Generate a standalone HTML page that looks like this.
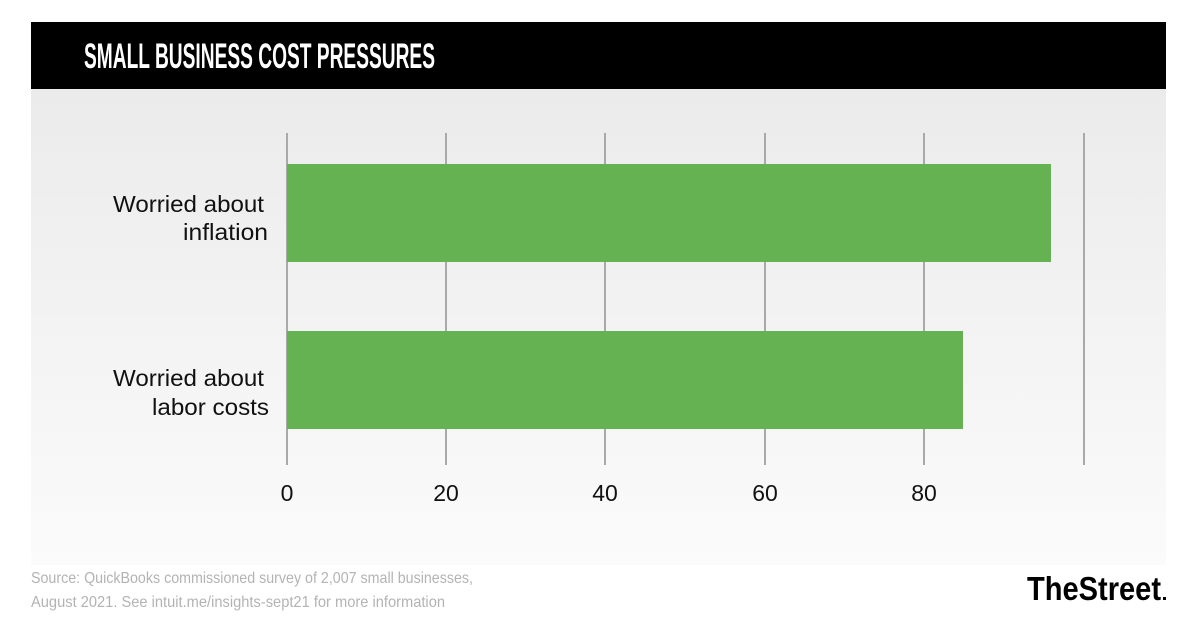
<!DOCTYPE html>
<html>
<head>
<meta charset="utf-8">
<style>
html,body{margin:0;padding:0;background:#fff;}
svg{display:block;}
</style>
</head>
<body>
<svg width="1200" height="626" viewBox="0 0 1200 626" xmlns="http://www.w3.org/2000/svg">
  <defs>
    <linearGradient id="bg" x1="0" y1="0" x2="0" y2="1">
      <stop offset="0" stop-color="#ebebeb"/>
      <stop offset="1" stop-color="#fbfbfb"/>
    </linearGradient>
  </defs>
  <rect x="0" y="0" width="1200" height="626" fill="#ffffff"/>
  <!-- header -->
  <rect x="31" y="22" width="1135" height="67" fill="#000000"/>
  <text x="84" y="68" font-family="Liberation Sans, Arial, sans-serif" font-weight="bold" font-size="35" fill="#ffffff" textLength="351" lengthAdjust="spacingAndGlyphs">SMALL BUSINESS COST PRESSURES</text>
  <!-- panel -->
  <rect x="31" y="89" width="1135" height="476" fill="url(#bg)"/>
  <!-- gridlines -->
  <g stroke="#a9a9a9" stroke-width="2">
    <line x1="287" y1="133" x2="287" y2="465"/>
    <line x1="446" y1="133" x2="446" y2="465"/>
    <line x1="605" y1="133" x2="605" y2="465"/>
    <line x1="765" y1="133" x2="765" y2="465"/>
    <line x1="924" y1="133" x2="924" y2="465"/>
    <line x1="1084" y1="133" x2="1084" y2="465"/>
  </g>
  <!-- bars -->
  <rect x="287" y="164" width="764" height="98" fill="#64b251"/>
  <rect x="287" y="331" width="676" height="98" fill="#64b251"/>
  <!-- category labels -->
  <g font-family="Liberation Sans, Arial, sans-serif" font-size="23.5" fill="#111111">
    <text x="113" y="212" textLength="151" lengthAdjust="spacingAndGlyphs">Worried about</text>
    <text x="183" y="240" textLength="85" lengthAdjust="spacingAndGlyphs">inflation</text>
    <text x="113" y="386" textLength="151" lengthAdjust="spacingAndGlyphs">Worried about</text>
    <text x="152" y="415" textLength="117" lengthAdjust="spacingAndGlyphs">labor costs</text>
  </g>
  <!-- tick labels -->
  <g font-family="Liberation Sans, Arial, sans-serif" font-size="23" fill="#111111" text-anchor="middle">
    <text x="287" y="501">0</text>
    <text x="446" y="501">20</text>
    <text x="605" y="501">40</text>
    <text x="765" y="501">60</text>
    <text x="924" y="501">80</text>
  </g>
  <!-- source -->
  <g font-family="Liberation Sans, Arial, sans-serif" font-size="16" fill="#b3b3b3">
    <text x="31" y="583" textLength="442" lengthAdjust="spacingAndGlyphs">Source: QuickBooks commissioned survey of 2,007 small businesses,</text>
    <text x="31" y="607" textLength="414" lengthAdjust="spacingAndGlyphs">August 2021.  See intuit.me/insights-sept21 for more information</text>
  </g>
  <!-- logo -->
  <text x="1027" y="600" font-family="Liberation Sans, Arial, sans-serif" font-weight="bold" font-size="33" fill="#000000" textLength="134" lengthAdjust="spacingAndGlyphs">TheStreet</text>
  <rect x="1163" y="597" width="3" height="3" fill="#000000"/>
</svg>
</body>
</html>
